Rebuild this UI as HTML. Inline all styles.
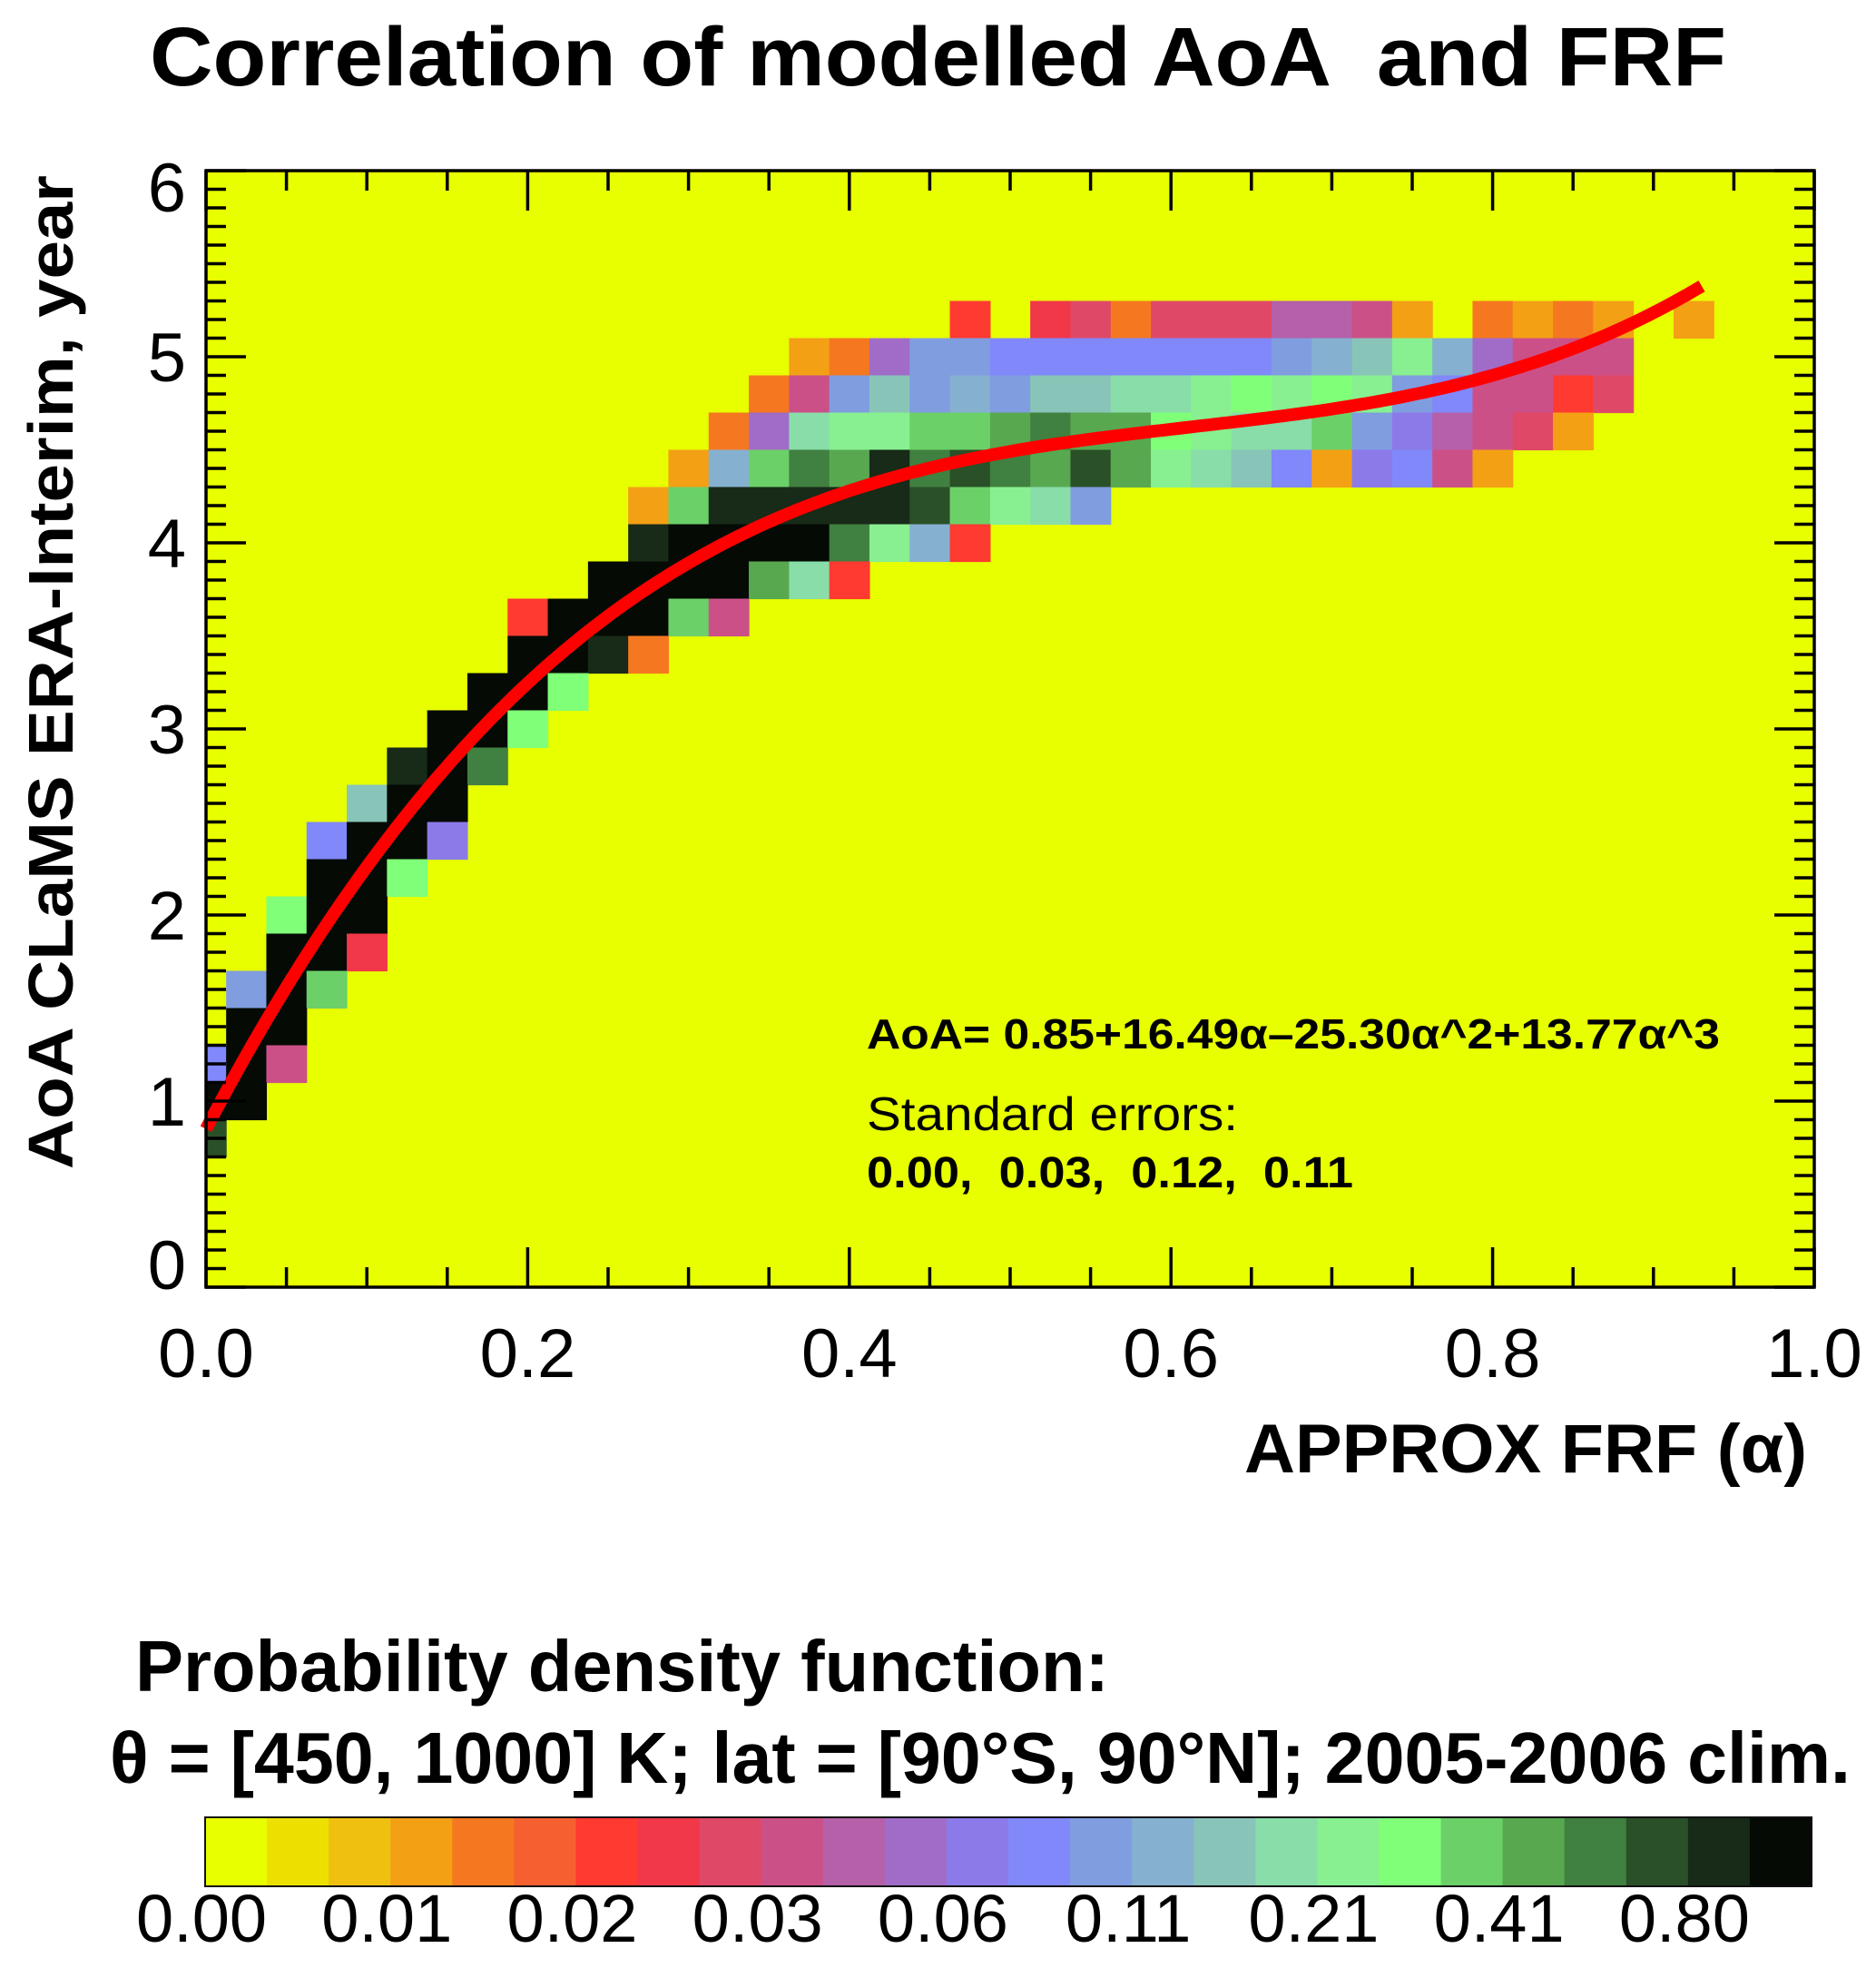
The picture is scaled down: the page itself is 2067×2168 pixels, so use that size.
<!DOCTYPE html>
<html>
<head>
<meta charset="utf-8">
<style>
html,body{margin:0;padding:0;background:#fff;}
svg{display:block;}
text{font-family:"Liberation Sans",Arial,sans-serif;fill:#000;white-space:pre;}
</style>
</head>
<body>
<svg id="chart" width="2067" height="2168" viewBox="0 0 2067 2168" xmlns="http://www.w3.org/2000/svg" xml:space="preserve">
  <text x="165" y="94" font-size="92" font-weight="bold" textLength="1737" lengthAdjust="spacingAndGlyphs">Correlation of modelled AoA  and FRF</text>
  <g id="plot">
    <rect x="227" y="188" width="1772" height="1230" fill="#E8FF00"/>
    <g id="cells"></g>
    <path id="fitcurve" fill="none" stroke="#FF0000" stroke-width="14"/>
    <g id="ticks"></g>
    <rect x="227" y="188" width="1772" height="1230" fill="none" stroke="#000" stroke-width="3.5"/>
  </g>
  <g id="ylabels"></g>
  <g id="xlabels"></g>
  <text transform="translate(80,1288) rotate(-90)" x="0" y="0" font-size="70" font-weight="bold" textLength="1095" lengthAdjust="spacingAndGlyphs">AoA CLaMS ERA-Interim, year</text>
  <text x="1371" y="1622" font-size="76" font-weight="bold" textLength="620" lengthAdjust="spacingAndGlyphs">APPROX FRF (α)</text>
  <text x="955" y="1155" font-size="46" font-weight="bold" textLength="940" lengthAdjust="spacingAndGlyphs">AoA= 0.85+16.49α–25.30α^2+13.77α^3</text>
  <text x="955" y="1245" font-size="52" textLength="409" lengthAdjust="spacingAndGlyphs">Standard errors:</text>
  <text x="955" y="1308" font-size="48" font-weight="bold" textLength="536" lengthAdjust="spacingAndGlyphs">0.00,  0.03,  0.12,  0.11</text>
  <text x="149" y="1863" font-size="80" font-weight="bold" textLength="1073" lengthAdjust="spacingAndGlyphs">Probability density function:</text>
  <text x="121" y="1964" font-size="80" font-weight="bold" textLength="1918" lengthAdjust="spacingAndGlyphs">θ = [450, 1000] K; lat = [90°S, 90°N]; 2005-2006 clim.</text>
  <g id="colorbar"></g>
  <g id="cblabels"></g>
</svg>
<script>
// ---- data ----
const levelColors = ["#E8FF00","#EDE000","#F0C010","#F3A015","#F57820","#F66030","#FF3A30","#F03848","#E04868","#CC5088","#B560A8","#A06CC8","#8C7AE8","#8088FA","#809DE0","#85B0D0","#88C4B8","#88DDA8","#88F090","#80FF78","#6CD068","#58A850","#408040","#2A5028","#182A18","#050A05"];
const colorbarLabels = ["0.00","0.01","0.02","0.03","0.06","0.11","0.21","0.41","0.80"];
const xTickLabels = ["0.0","0.2","0.4","0.6","0.8","1.0"];
const yTickLabels = ["0","1","2","3","4","5","6"];
const fitCoeffs = [0.85, 16.49, -25.30, 13.77];
const fitAlphaMax = 0.93;
const binAlpha = 0.025;
const binAoA = 0.2;
const rowAoA = [5.2,5.0,4.8,4.6,4.4,4.2,4.0,3.8,3.6,3.4,3.2,3.0,2.8,2.6,2.4,2.2,2.0,1.8,1.6,1.4,1.2,1.0,0.8];
const rowBins = [
 [19,21,22,23,24,25,26,27,28,29,30,32,33,34,35,37],
 [15,16,17,18,19,20,21,22,23,24,25,26,27,28,29,30,31,32,33,34,35],
 [14,15,16,17,18,19,20,21,22,23,24,25,26,27,28,29,30,31,32,33,34,35],
 [13,14,15,16,17,18,19,20,21,22,23,24,25,26,27,28,29,30,31,32,33,34],
 [12,13,14,15,16,17,18,19,20,21,22,23,24,25,26,27,28,29,30,31,32],
 [11,12,13,14,15,16,17,18,19,20,21,22],
 [11,12,13,14,15,16,17,18,19],
 [10,11,12,13,14,15,16],
 [8,9,10,11,12,13],
 [8,9,10,11],
 [7,8,9],
 [6,7,8],
 [5,6,7],
 [4,5,6],
 [3,4,5,6],
 [3,4,5],
 [2,3,4],
 [2,3,4],
 [1,2,3],
 [1,2],
 [0,1,2],
 [0,1],
 [0]
];
const rowLevels = [
 [6,7,8,4,8,8,8,10,10,9,3,4,3,4,3,3],
 [3,4,11,14,14,13,13,13,13,13,13,13,14,15,16,18,15,11,9,9,9],
 [4,9,14,16,14,15,14,16,16,17,17,18,19,18,19,18,14,13,9,9,6,8],
 [4,11,17,18,18,20,20,21,22,21,21,19,18,17,17,20,14,12,10,9,8,3],
 [3,15,20,22,21,24,22,23,22,21,23,21,18,17,16,13,3,12,13,9,3],
 [3,20,24,24,24,24,24,23,20,18,17,14],
 [24,25,25,25,25,22,18,15,6],
 [25,25,25,25,21,17,6],
 [6,25,25,25,20,9],
 [25,25,24,4],
 [25,25,19],
 [25,25,19],
 [24,25,22],
 [16,25,25],
 [13,25,25,12],
 [25,25,19],
 [19,25,25],
 [25,25,7],
 [14,25,20],
 [25,25],
 [13,25,9],
 [25,25],
 [23]
];

// ---- axes ----
const X0 = 227, X1 = 1999, Y0 = 1418, Y1 = 188;
const xMin = 0, xMax = 1, yMin = 0, yMax = 6;
function sx(a){ return X0 + (a - xMin) / (xMax - xMin) * (X1 - X0); }
function sy(v){ return Y0 - (v - yMin) / (yMax - yMin) * (Y0 - Y1); }
const NS = "http://www.w3.org/2000/svg";
function mk(tag, attrs, parent){
  const e = document.createElementNS(NS, tag);
  for (const k in attrs) e.setAttribute(k, attrs[k]);
  parent.appendChild(e);
  return e;
}

// heatmap cells
const cellsG = document.getElementById('cells');
rowAoA.forEach((v, r) => {
  rowBins[r].forEach((b, i) => {
    const a = b * binAlpha;
    const aL = Math.max(xMin, a - binAlpha / 2), aR = a + binAlpha / 2;
    const x = sx(aL), w = sx(aR) - x;
    const y = sy(v + binAoA / 2), h = sy(v - binAoA / 2) - y;
    const rect = mk('rect', {x: x, y: y, width: w + 0.6, height: h + 0.6, fill: levelColors[rowLevels[r][i]]}, cellsG);
    
    
  });
});

// fit curve
(function(){
  let d = '';
  const n = 200;
  for (let i = 0; i <= n; i++) {
    const a = fitAlphaMax * i / n;
    const v = fitCoeffs[0] + fitCoeffs[1]*a + fitCoeffs[2]*a*a + fitCoeffs[3]*a*a*a;
    d += (i ? 'L' : 'M') + sx(a).toFixed(1) + ',' + sy(v).toFixed(1);
  }
  document.getElementById('fitcurve').setAttribute('d', d);
})();

// ticks
const ticksG = document.getElementById('ticks');
for (let i = 0; i <= 60; i++) {
  const v = i / 10, y = sy(v);
  const len = (i % 10 === 0) ? 44 : 22;
  const t1 = mk('line', {x1: X0, x2: X0 + len, y1: y, y2: y, stroke: '#000', 'stroke-width': 3.5}, ticksG);
  
  
  const t2 = mk('line', {x1: X1, x2: X1 - len, y1: y, y2: y, stroke: '#000', 'stroke-width': 3.5}, ticksG);
  
  
}
for (let i = 0; i <= 20; i++) {
  const a = i / 20, x = sx(a);
  const len = (i % 4 === 0) ? 44 : 22;
  const t1 = mk('line', {x1: x, x2: x, y1: Y0, y2: Y0 - len, stroke: '#000', 'stroke-width': 3.5}, ticksG);
  
  
  const t2 = mk('line', {x1: x, x2: x, y1: Y1, y2: Y1 + len, stroke: '#000', 'stroke-width': 3.5}, ticksG);
  
  
}

// tick labels
const ylG = document.getElementById('ylabels');
yTickLabels.forEach((s, i) => {
  const v = parseFloat(s);
  let base = sy(v) + 27;
  if (i === 0) base = sy(v) + 2;
  if (i === yTickLabels.length - 1) base = sy(v) + 45;
  const t = mk('text', {x: 205, y: base, 'font-size': 76, 'text-anchor': 'end'}, ylG);
  t.textContent = s;
  
  
});
const xlG = document.getElementById('xlabels');
xTickLabels.forEach((s) => {
  const t = mk('text', {x: sx(parseFloat(s)), y: 1517, 'font-size': 76, 'text-anchor': 'middle'}, xlG);
  t.textContent = s;
  
  
});

// colorbar
const CB0 = 226, CB1 = 1996, CBT = 2002, CBB = 2078;
const cbG = document.getElementById('colorbar');
const segW = (CB1 - CB0) / levelColors.length;
levelColors.forEach((c, i) => {
  const r = mk('rect', {x: CB0 + i * segW, y: CBT, width: segW + 0.6, height: CBB - CBT, fill: c}, cbG);
  
  
});
const cbFrame = mk('rect', {x: CB0, y: CBT, width: CB1 - CB0, height: CBB - CBT, fill: 'none', stroke: '#111', 'stroke-width': 2}, cbG);


const cblG = document.getElementById('cblabels');
colorbarLabels.forEach((s, i) => {
  const t = mk('text', {x: CB0 + i * 3 * segW - 4, y: 2139, 'font-size': 74, 'text-anchor': 'middle'}, cblG);
  t.textContent = s;
  
  
});
</script>
</body>
</html>
